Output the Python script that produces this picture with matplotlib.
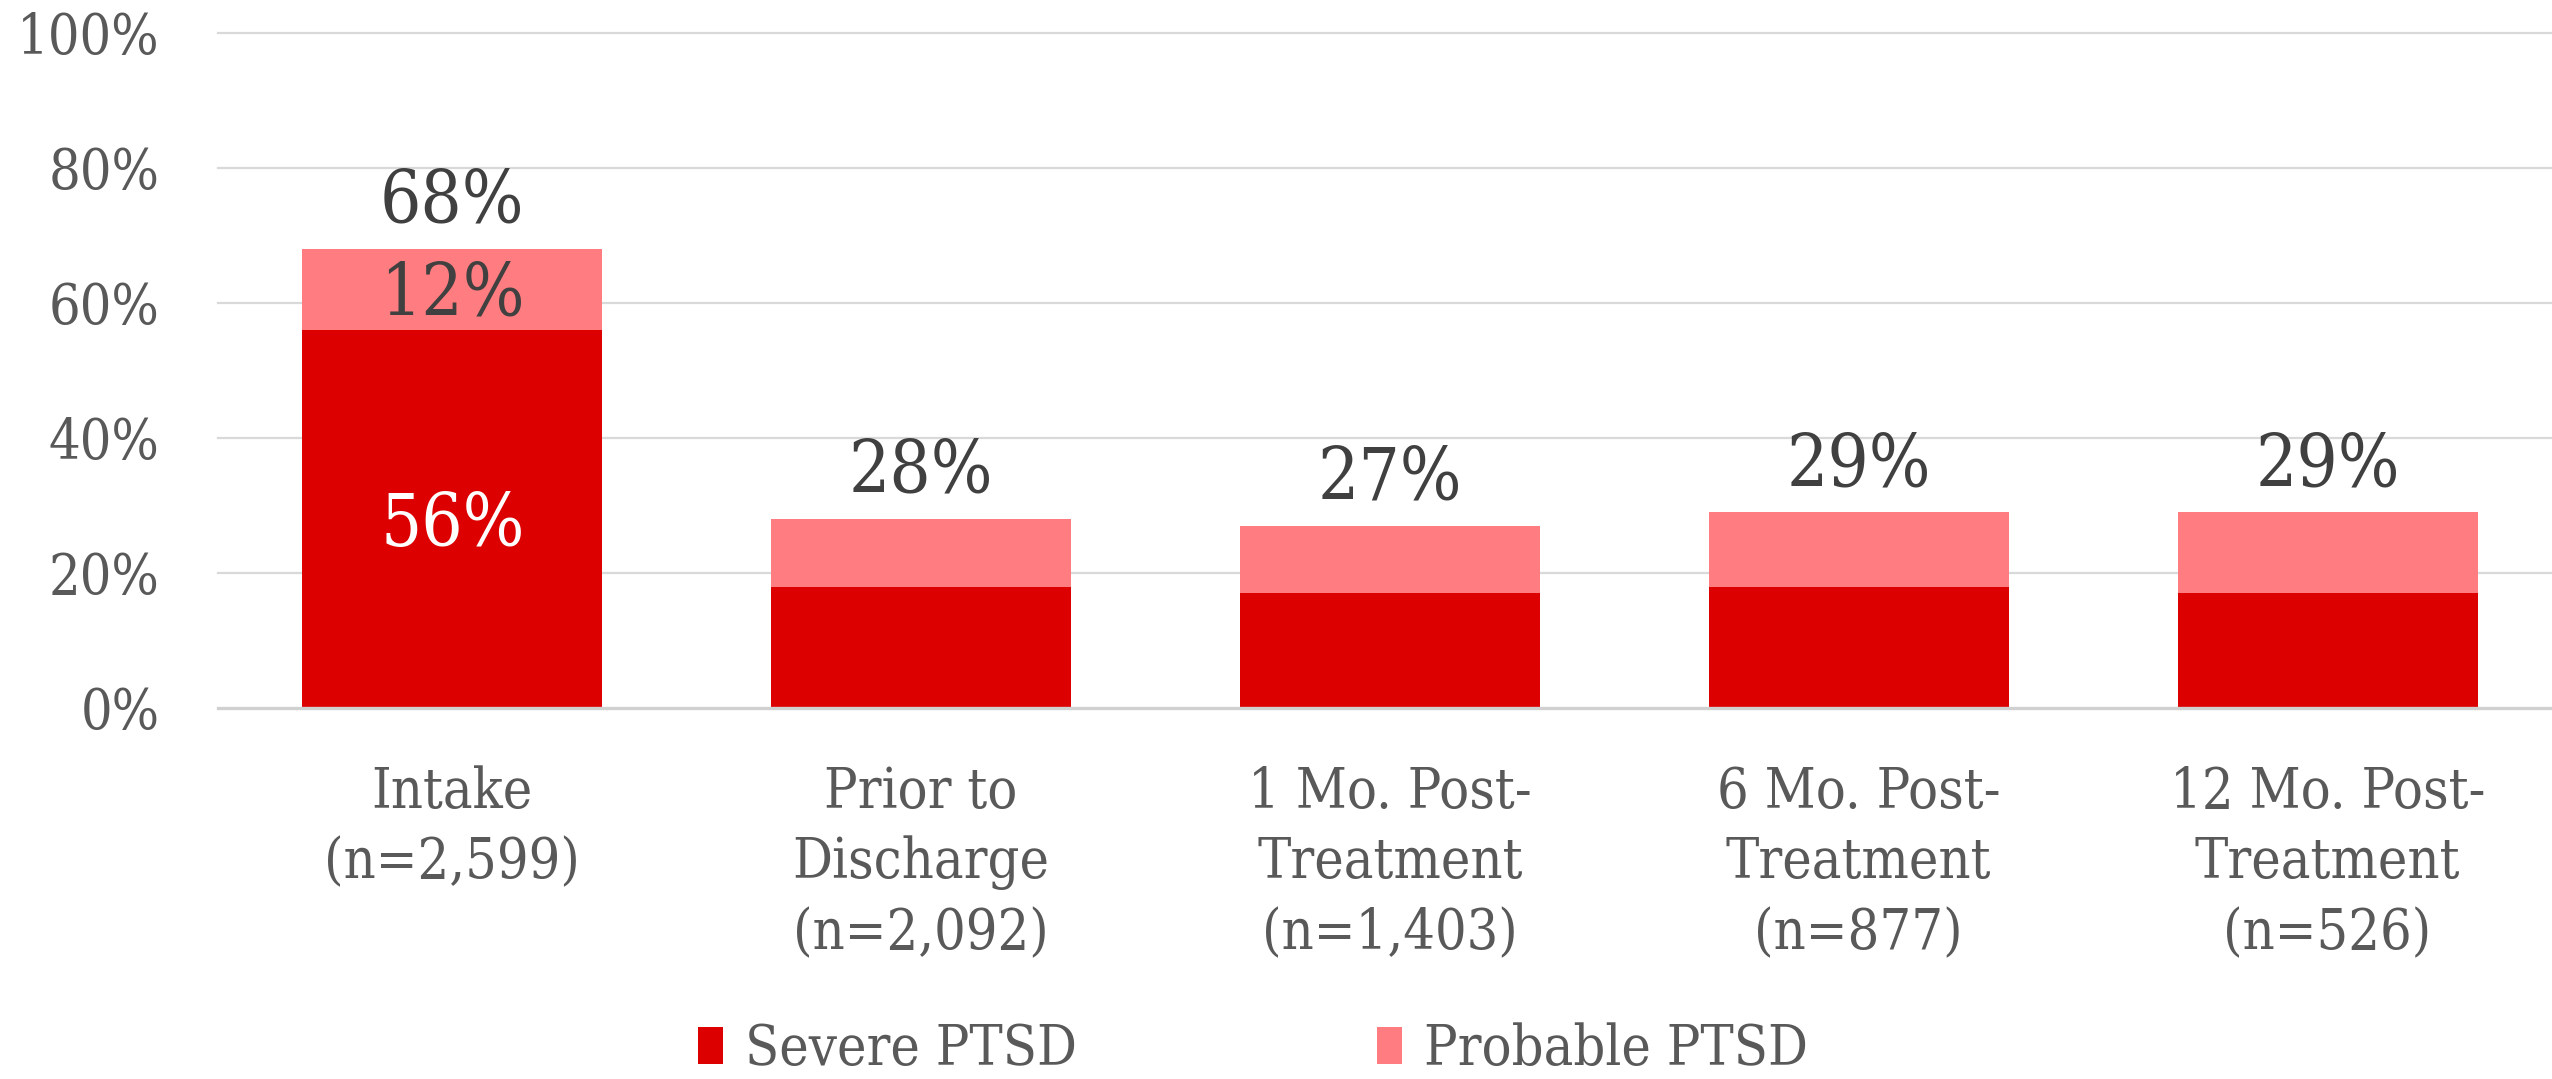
import matplotlib.pyplot as plt
import numpy as np

# -------------------------------
# Data
# -------------------------------
categories = [
    "Intake\n(n=2,599)",
    "Prior to\nDischarge\n(n=2,092)",
    "1 Mo. Post-\nTreatment\n(n=1,403)",
    "6 Mo. Post-\nTreatment\n(n=877)",
    "12 Mo. Post-\nTreatment\n(n=526)",
]
severe = [56, 18, 17, 18, 17]
probable = [12, 10, 10, 11, 12]
totals = [68, 28, 27, 29, 29]
y_ticks = [0, 20, 40, 60, 80, 100]

SEVERE_COLOR = "#DD0000"
PROBABLE_COLOR = "#FF7C80"
TICK_COLOR = "#595959"
LABEL_COLOR = "#404040"
GRID_COLOR = "#D9D9D9"

plt.rcParams["font.family"] = ["DejaVu Serif"]
plt.rcParams["font.stretch"] = "condensed"

fig = plt.figure(figsize=(25.52, 10.79), dpi=100)
ax = fig.add_axes([0.0854, 0.3438, 0.9185, 0.6256])

x = np.arange(len(categories))
width = 0.64

# gridlines behind bars
for t in y_ticks[1:]:
    ax.axhline(t, color=GRID_COLOR, lw=1.6, zorder=0, clip_on=False)
ax.axhline(0, color="#D0D0D0", lw=2.4, zorder=3, clip_on=False)

ax.bar(x, severe, width, color=SEVERE_COLOR, label="Severe PTSD", zorder=2)
ax.bar(x, probable, width, bottom=severe, color=PROBABLE_COLOR,
       label="Probable PTSD", zorder=2)

# totals above bars
for xi, tot in zip(x, totals):
    ax.annotate(f"{tot}%", (xi, tot), xytext=(0, 8), textcoords="offset points",
                ha="center", va="bottom", fontsize=52, color=LABEL_COLOR)

# segment labels for intake bar only
ax.annotate(f"{severe[0]}%", (x[0], severe[0] / 2), xytext=(0, -5),
            textcoords="offset points", ha="center", va="center",
            fontsize=52, color="white", zorder=4)
ax.annotate(f"{probable[0]}%", (x[0], severe[0] + probable[0] / 2),
            xytext=(0, -4), textcoords="offset points", ha="center",
            va="center", fontsize=52, color=LABEL_COLOR, zorder=4)

ax.set_xlim(-0.5, len(categories) - 0.5)
ax.set_ylim(0, 100)
ax.set_yticks(y_ticks)
ax.set_yticklabels([f"{t}%" for t in y_ticks])
ax.set_xticks(x)
ax.set_xticklabels(categories, linespacing=1.37)

ax.tick_params(axis="y", length=0, pad=42, labelsize=40, labelcolor=TICK_COLOR)
ax.tick_params(axis="x", length=0, pad=41, labelsize=40, labelcolor=TICK_COLOR)

for s in ax.spines.values():
    s.set_visible(False)

fig.legend(loc="center", bbox_to_anchor=(0.491, 0.027), ncol=2, frameon=False,
           fontsize=40, labelcolor=TICK_COLOR, handlelength=0.45,
           handleheight=0.65, handletextpad=0.4, columnspacing=5.4,
           borderaxespad=0, borderpad=0)

fig.savefig("out.png", dpi=100)
